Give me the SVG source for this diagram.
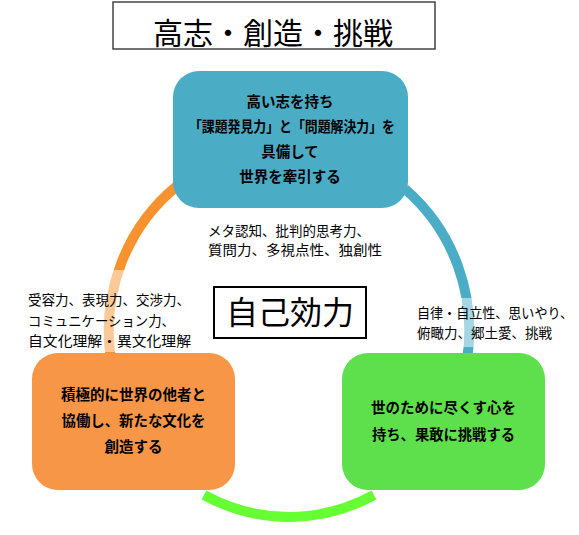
<svg xmlns="http://www.w3.org/2000/svg" width="579" height="535" viewBox="0 0 579 535">
<style>
text{font-family:"Noto Sans CJK JP","Noto Sans CJK SC",sans-serif;fill:#000}
.bx{font-weight:bold;font-size:14.5px;text-anchor:middle}
.lb{font-size:13.5px}
.arc{fill:none;stroke-width:10;stroke-linecap:butt}
.bg{fill:#fff;fill-opacity:0.5}
</style>
<rect width="579" height="535" fill="#fff"/>
<g id="title">
<rect x="113" y="2" width="322" height="47" fill="#fff" stroke="#444" stroke-width="1.5"/>
<text x="273" y="44" font-size="30" text-anchor="middle">高志・創造・挑戦</text>
</g>
<g id="connectors">
<path class="arc" d="M 177 186 A 180 185 0 0 0 111 360" stroke="#F7922F"/>
<path class="arc" d="M 405 189 A 180 185 0 0 1 467 360" stroke="#4BACC6"/>
<path class="arc" d="M 204 495 A 180 185 0 0 0 374 495" stroke="#66FF33"/>
</g>
<g id="label-left">
<rect class="bg" x="20" y="270" width="180" height="82"/>
<text class="lb" x="28" y="305" textLength="162" lengthAdjust="spacingAndGlyphs">受容力、表現力、交渉力、</text>
<text class="lb" x="28" y="326" textLength="147" lengthAdjust="spacingAndGlyphs">コミュニケーション力、</text>
<text class="lb" x="28" y="346" textLength="163" lengthAdjust="spacingAndGlyphs">自文化理解・異文化理解</text>
</g>
<g id="label-right">
<rect class="bg" x="410" y="298" width="169" height="49"/>
<text class="lb" x="417" y="318" textLength="156" lengthAdjust="spacingAndGlyphs">自律・自立性、思いやり、</text>
<text class="lb" x="417" y="338" textLength="135" lengthAdjust="spacingAndGlyphs">俯瞰力、郷土愛、挑戦</text>
</g>
<g id="label-top">
<text class="lb" x="208" y="236" textLength="162" lengthAdjust="spacingAndGlyphs">メタ認知、批判的思考力、</text>
<text class="lb" x="208" y="255" textLength="174" lengthAdjust="spacingAndGlyphs">質問力、多視点性、独創性</text>
</g>
<g id="node-top">
<rect x="173" y="71" width="235" height="137" rx="26" fill="#4BACC6"/>
<text class="bx" x="290" y="107">高い志を持ち</text>
<text class="bx" x="292" y="132" textLength="206" lengthAdjust="spacingAndGlyphs">「課題発見力」と「問題解決力」を</text>
<text class="bx" x="290" y="157">具備して</text>
<text class="bx" x="290" y="182">世界を牽引する</text>
</g>
<g id="node-left">
<rect x="32" y="353" width="203" height="137" rx="26" fill="#F79646"/>
<text class="bx" x="133.5" y="400" font-size="15">積極的に世界の他者と</text>
<text class="bx" x="133.5" y="426" font-size="15" textLength="144" lengthAdjust="spacingAndGlyphs">協働し、新たな文化を</text>
<text class="bx" x="133.5" y="452" font-size="15">創造する</text>
</g>
<g id="node-right">
<rect x="342" y="353" width="203" height="137" rx="26" fill="#5DE04B"/>
<text class="bx" x="443.5" y="413" font-size="15">世のために尽くす心を</text>
<text class="bx" x="443.5" y="440" font-size="15" textLength="143" lengthAdjust="spacingAndGlyphs">持ち、果敢に挑戦する</text>
</g>
<g id="node-center">
<rect x="214" y="287" width="152" height="51" fill="#fff" stroke="#000" stroke-width="2"/>
<text x="290" y="324" font-size="32" text-anchor="middle">自己効力</text>
</g>
</svg>
